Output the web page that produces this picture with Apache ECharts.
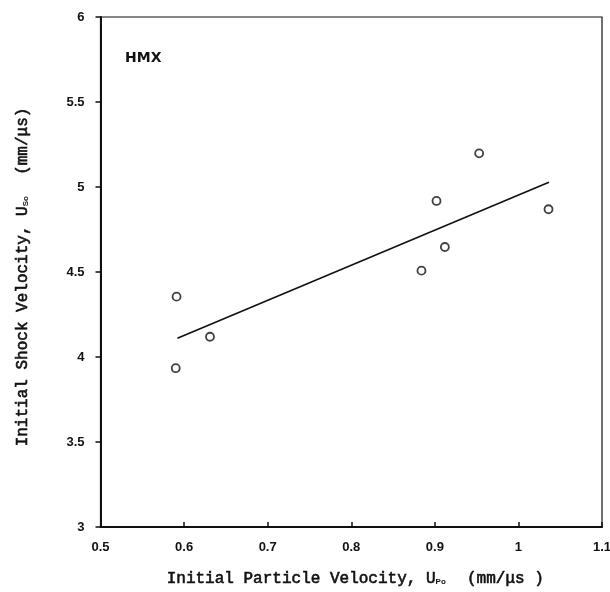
<!DOCTYPE html>
<html>
<head>
<meta charset="utf-8">
<script src="https://cdn.jsdelivr.net/npm/echarts@6/dist/echarts.min.js"></script>
<style>
  html, body { margin: 0; padding: 0; background: #fff; }
  #chart { width: 610px; height: 592px; }
</style>
</head>
<body>
<div id="chart"></div>
<script>
// Measured HMX initial particle velocity vs initial shock velocity (mm/us)
const particleVelocity = [0.591, 0.590, 0.631, 0.884, 0.902, 0.912, 0.953, 1.036];
const shockVelocity    = [4.355, 3.934, 4.119, 4.508, 4.918, 4.647, 5.198, 4.869];

// Least-squares fit drawn over the measured range
const fitX = [0.592, 1.0365];
const fitY = [4.110, 5.028];

const xTickLabels = ['0.5', '0.6', '0.7', '0.8', '0.9', '1', '1.1'];
const yTickLabels = ['3', '3.5', '4', '4.5', '5', '5.5', '6'];

const points = particleVelocity.map((x, i) => [x, shockVelocity[i]]);
const fitLine = fitX.map((x, i) => [x, fitY[i]]);

const labelFont = {
  color: '#111',
  fontFamily: 'Liberation Sans, Arial, sans-serif',
  fontWeight: 'bold',
  fontSize: 13
};
// Axis titles: wide typewriter face, lightly thickened with a thin outline
const titleFont = {
  color: '#111',
  fontFamily: 'Liberation Mono, Courier New, monospace',
  fontSize: 16,
  textBorderColor: '#111',
  textBorderWidth: 0.6
};
const subFont = {
  color: '#111',
  fontFamily: 'Liberation Sans, Arial, sans-serif',
  fontWeight: 'bold',
  fontSize: 8,
  verticalAlign: 'bottom',
  padding: [0, 2, 1, 0]
};

const chart = echarts.init(document.getElementById('chart'));
chart.setOption({
  animation: false,
  backgroundColor: '#fff',
  grid: {
    left: 100.5, right: 8, top: 17, bottom: 65,
    containLabel: false,
    outerBoundsMode: 'none',
    show: true,
    borderColor: '#111',
    borderWidth: 1.2
  },
  graphic: [{
    type: 'text',
    left: 125, top: 51,
    style: {
      text: 'HMX',
      fill: '#111',
      font: 'bold 14px DejaVu Sans, sans-serif'
    }
  }],
  xAxis: {
    type: 'value',
    min: 0.5, max: 1.1, interval: 0.1,
    name: '{t|Initial Particle Velocity, U}{s|Po}{t|  (mm/\u03bcs )}',
    nameLocation: 'middle',
    nameGap: 44,
    nameTextStyle: { rich: { t: titleFont, s: subFont }, padding: [0, 0, 0, 8] },
    axisLine: { show: true, onZero: false, lineStyle: { color: '#111', width: 2 } },
    axisTick: { show: true, inside: true, length: 5, lineStyle: { color: '#111', width: 1.5 } },
    splitLine: { show: false },
    axisLabel: Object.assign({
      margin: 14,
      formatter: v => xTickLabels[Math.round((v - 0.5) * 10)]
    }, labelFont)
  },
  yAxis: {
    type: 'value',
    min: 3, max: 6, interval: 0.5,
    name: '{t|Initial Shock Velocity, U}{s|So}{t|  (mm/\u03bcs)}',
    nameLocation: 'middle',
    nameGap: 70,
    nameRotate: 90,
    nameTextStyle: { rich: { t: titleFont, s: subFont }, padding: [0, 10, 0, 0] },
    axisLine: { show: true, onZero: false, lineStyle: { color: '#111', width: 2 } },
    axisTick: { show: true, inside: false, length: 5, lineStyle: { color: '#111', width: 1.5 } },
    splitLine: { show: false },
    axisLabel: Object.assign({
      margin: 16,
      formatter: v => yTickLabels[Math.round((v - 3) * 2)]
    }, labelFont)
  },
  series: [
    {
      type: 'line',
      data: fitLine,
      symbol: 'none',
      lineStyle: { color: '#111', width: 1.6 },
      z: 2
    },
    {
      type: 'scatter',
      data: points,
      symbol: 'circle',
      symbolSize: 8,
      itemStyle: { color: '#fff', borderColor: '#111', borderWidth: 1.8 },
      z: 3
    }
  ]
});
</script>
</body>
</html>
